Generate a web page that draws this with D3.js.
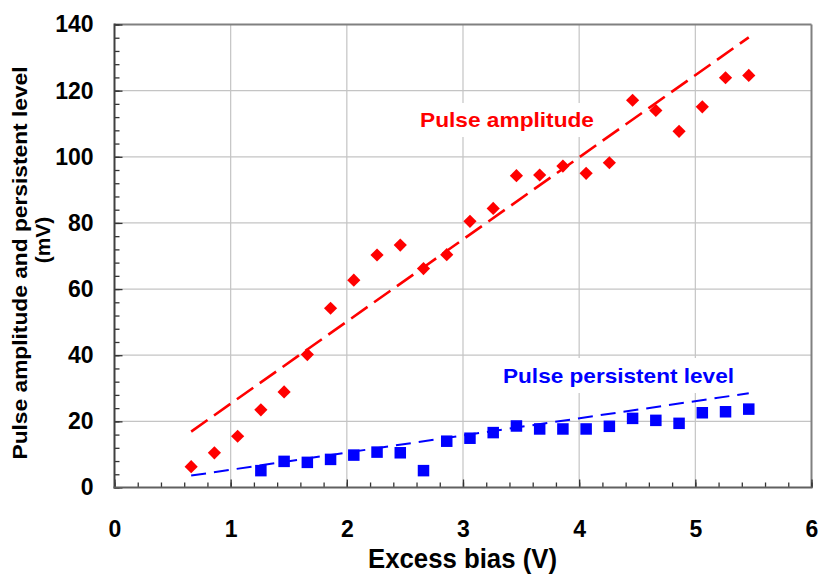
<!DOCTYPE html>
<html><head><meta charset="utf-8">
<script src="https://cdn.jsdelivr.net/npm/d3@7/dist/d3.min.js"></script>
<style>
body{margin:0;background:#fff}
svg{display:block}
text{font-family:"Liberation Sans",Arial,sans-serif;font-weight:bold}
</style>
</head><body>
<svg id="c" width="820" height="576"></svg>
<script>
// ---- data ----
const ampBias = [0.66,0.86,1.06,1.26,1.46,1.66,1.86,2.06,2.26,2.46,2.66,2.86,3.06,3.26,3.46,3.66,3.86,4.06,4.26,4.46,4.66,4.86,5.06,5.26,5.46];
const amplitude = [6.3,10.5,15.5,23.5,28.9,40.2,54.2,62.7,70.3,73.3,66.2,70.4,80.5,84.4,94.3,94.5,97.2,95.0,98.2,117.1,114.0,107.7,115.1,123.9,124.6];
const perBias = [1.26,1.46,1.66,1.86,2.06,2.26,2.46,2.66,2.86,3.06,3.26,3.46,3.66,3.86,4.06,4.26,4.46,4.66,4.86,5.06,5.26,5.46];
const persistent = [5.1,7.9,7.6,8.5,9.8,10.7,10.5,5.1,14.0,14.9,16.6,18.6,17.7,17.7,17.7,18.5,20.9,20.3,19.4,22.6,22.9,23.7];
const ampFitX = [0.66, 5.46];
const ampFitY = [16.9, 136.1];
const perFitX = [0.66, 5.46];
const perFitY = [3.6, 28.5];
const xTicks = [0,1,2,3,4,5,6];
const yTicks = [0,20,40,60,80,100,120,140];
const xMinor = d3.range(0, 6.0001, 0.2);
const yMinor = d3.range(0, 140.0001, 4);
const xTitle = "Excess bias (V)";
const yTitle1 = "Pulse amplitude and persistent level";
const yTitle2 = "(mV)";
const ampLabel = "Pulse amplitude";
const perLabel = "Pulse persistent level";

// ---- layout ----
const L = 114.5, R = 811.5, T = 24.5, B = 487.5;
const svg = d3.select("#c");
const x = d3.scaleLinear().domain([0,6]).range([L,R]);
const y = d3.scaleLinear().domain([0,140]).range([B,T]);

// grid
const g = svg.append("g");
g.selectAll("line.v").data(xTicks.filter(d=>d>0&&d<6)).join("line")
  .attr("x1",d=>x(d)).attr("x2",d=>x(d)).attr("y1",T).attr("y2",B)
  .attr("stroke","#c4c4c4").attr("stroke-width",1.2);
g.selectAll("line.h").data(yTicks.filter(d=>d>0&&d<140)).join("line")
  .attr("x1",L).attr("x2",R).attr("y1",d=>y(d)).attr("y2",d=>y(d))
  .attr("stroke","#c4c4c4").attr("stroke-width",1.2);

// label backgrounds
function bgBox(x0,y0,w,h){svg.append("rect").attr("x",x0).attr("y",y0).attr("width",w).attr("height",h).attr("fill","#fff");}
bgBox(414,103,186,34);
bgBox(497,358,244,35);

// border (top/right)
svg.append("line").attr("x1",L).attr("x2",R).attr("y1",T).attr("y2",T).attr("stroke","#808080").attr("stroke-width",2);
svg.append("line").attr("x1",R).attr("x2",R).attr("y1",T).attr("y2",B).attr("stroke","#808080").attr("stroke-width",2);

// axes
const yAxis = d3.axisLeft(y).tickValues(yTicks).tickSize(-8).tickPadding(21).tickFormat(d3.format("d"));
const yAxisMinor = d3.axisLeft(y).tickValues(yMinor).tickSize(-5).tickFormat("");
const xAxis = d3.axisBottom(x).tickValues(xTicks).tickSize(-8).tickPadding(33).tickFormat(d3.format("d"));
const xAxisMinor = d3.axisBottom(x).tickValues(xMinor).tickSize(-5).tickFormat("");

function styleAxis(sel){
  sel.select(".domain").remove();
  sel.selectAll(".tick line").attr("stroke","#333").attr("stroke-width",1.3);
  sel.selectAll("text").attr("fill","#000").style("font-size","23px").style("font-family",'"Liberation Sans",Arial,sans-serif').style("font-weight","bold");
}
svg.append("g").attr("transform",`translate(${L},0)`).call(yAxisMinor).call(styleAxis);
svg.append("g").attr("transform",`translate(${L},0)`).call(yAxis).call(styleAxis);
svg.append("g").attr("transform",`translate(0,${B})`).call(xAxisMinor).call(styleAxis);
svg.append("g").attr("transform",`translate(0,${B})`).call(xAxis).call(styleAxis);

svg.append("line").attr("x1",L).attr("x2",L).attr("y1",T-1).attr("y2",B+1).attr("stroke","#404040").attr("stroke-width",2);
svg.append("line").attr("x1",L-1).attr("x2",R+1).attr("y1",B).attr("y2",B).attr("stroke","#606060").attr("stroke-width",2);

// fit lines
const line = d3.line().x(d=>x(d[0])).y(d=>y(d[1]));
svg.append("path").datum(d3.zip(ampFitX,ampFitY)).attr("d",line)
  .attr("fill","none").attr("stroke","#ff0000").attr("stroke-width",2.6).attr("stroke-dasharray","20,8");
svg.append("path").datum(d3.zip(perFitX,perFitY)).attr("d",line)
  .attr("fill","none").attr("stroke","#0000ff").attr("stroke-width",2).attr("stroke-dasharray","15,8");

// markers
const dh = 6.6;
svg.append("g").selectAll("path").data(d3.zip(ampBias,amplitude)).join("path")
  .attr("d",d=>{const cx=x(d[0]),cy=y(d[1]);return `M${cx},${cy-dh}L${cx+dh},${cy}L${cx},${cy+dh}L${cx-dh},${cy}Z`;})
  .attr("fill","#ff0000");
const sq = 11.5;
svg.append("g").selectAll("rect").data(d3.zip(perBias,persistent)).join("rect")
  .attr("x",d=>x(d[0])-sq/2).attr("y",d=>y(d[1])-sq/2).attr("width",sq).attr("height",sq)
  .attr("fill","#0000ff");

// series labels
svg.append("text").attr("x",420).attr("y",126.7).attr("fill","#ff0000")
  .style("font-size","21px").attr("textLength",174).attr("lengthAdjust","spacingAndGlyphs").text(ampLabel);
svg.append("text").attr("x",503).attr("y",382.5).attr("fill","#0000ff")
  .style("font-size","21px").attr("textLength",231).attr("lengthAdjust","spacingAndGlyphs").text(perLabel);

// axis titles
svg.append("text").attr("x",462.5).attr("y",568).attr("text-anchor","middle").attr("fill","#000")
  .style("font-size","27px").attr("textLength",189).attr("lengthAdjust","spacingAndGlyphs").text(xTitle);
svg.append("text").attr("transform","translate(27,263) rotate(-90)").attr("text-anchor","middle").attr("fill","#000")
  .style("font-size","21px").attr("textLength",393).attr("lengthAdjust","spacingAndGlyphs").text(yTitle1);
svg.append("text").attr("transform","translate(50,240) rotate(-90)").attr("text-anchor","middle").attr("fill","#000")
  .style("font-size","21px").text(yTitle2);
</script>
</body></html>
